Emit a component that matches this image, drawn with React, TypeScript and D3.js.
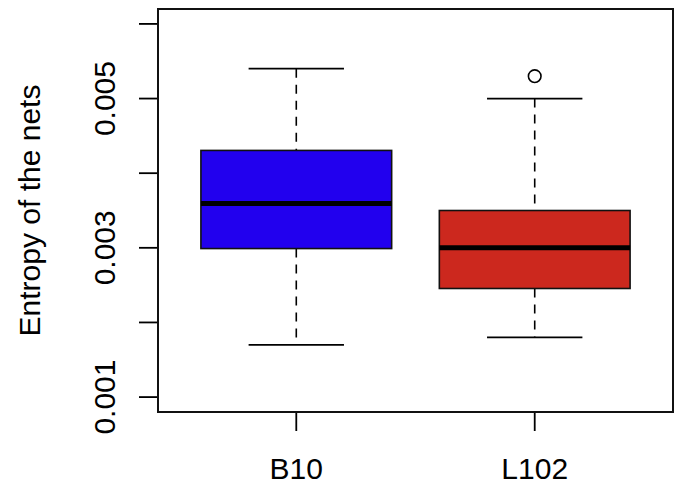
import React from "react";
import * as d3 from "d3";

const categories = ["B10", "L102"];
const boxColors = ["#2200ee", "#cc281e"];
// [lowerWhisker, q1, median, q3, upperWhisker]
const lowerWhisker = [0.0017, 0.0018];
const q1 = [0.00299, 0.002455];
const median = [0.003595, 0.003];
const q3 = [0.004305, 0.0035];
const upperWhisker = [0.0054, 0.005];
const outliers: [number, number][] = [[1, 0.0053]];
const yTicks = [0.001, 0.002, 0.003, 0.004, 0.005, 0.006];
const yLabeled = [0.001, 0.003, 0.005];
const yTitle = "Entropy of the nets";

const W = 675, H = 484;
const left = 158, right = 673, top = 9, bottom = 412;
const font = "'Liberation Sans', Arial, Helvetica, sans-serif";

export default function App() {
  const y = d3.scaleLinear().domain([0.0008, 0.0062]).range([bottom, top]);
  const x = d3.scaleLinear().domain([0.42, 2.58]).range([left, right]);
  const halfBox = (x(1.4) - x(1.0));
  const halfCap = (x(1.2) - x(1.0));
  return (
    <svg width={W} height={H} style={{ position: "absolute", left: 0, top: 0 }}>
      <rect width={W} height={H} fill="#fff" />
      {categories.map((c, i) => {
        const cx = x(i + 1);
        return (
          <g key={c}>
            <line x1={cx} x2={cx} y1={y(upperWhisker[i])} y2={y(q3[i])} stroke="#000" strokeWidth={1.6} strokeDasharray="9 7" />
            <line x1={cx} x2={cx} y1={y(q1[i])} y2={y(lowerWhisker[i])} stroke="#000" strokeWidth={1.6} strokeDasharray="9 7" />
            <line x1={cx - halfCap} x2={cx + halfCap} y1={y(upperWhisker[i])} y2={y(upperWhisker[i])} stroke="#000" strokeWidth={1.8} />
            <line x1={cx - halfCap} x2={cx + halfCap} y1={y(lowerWhisker[i])} y2={y(lowerWhisker[i])} stroke="#000" strokeWidth={1.8} />
            <rect x={cx - halfBox} width={2 * halfBox} y={y(q3[i])} height={y(q1[i]) - y(q3[i])} fill={boxColors[i]} stroke="#111" strokeWidth={1.6} />
            <line x1={cx - halfBox} x2={cx + halfBox} y1={y(median[i])} y2={y(median[i])} stroke="#000" strokeWidth={5} />
            <line x1={cx} x2={cx} y1={bottom} y2={bottom + 19} stroke="#000" strokeWidth={1.8} />
            <text x={cx} y={479} textAnchor="middle" fontFamily={font} fontSize={30} fill="#000">{c}</text>
          </g>
        );
      })}
      {outliers.map(([g, v], k) => (
        <circle key={k} cx={x(g + 1)} cy={y(v)} r={6.3} fill="none" stroke="#000" strokeWidth={1.6} />
      ))}
      {yTicks.map((t) => (
        <line key={t} x1={left - 19} x2={left} y1={y(t)} y2={y(t)} stroke="#000" strokeWidth={1.8} />
      ))}
      {yLabeled.map((t) => (
        <text key={t} transform={`translate(115,${y(t)}) rotate(-90)`} textAnchor="middle" fontFamily={font} fontSize={30} fill="#000">{d3.format(".3f")(t)}</text>
      ))}
      <text transform={`translate(40,${(top + bottom) / 2}) rotate(-90)`} textAnchor="middle" fontFamily={font} fontSize={30} fill="#000">{yTitle}</text>
      <rect x={left} y={top} width={right - left} height={bottom - top} fill="none" stroke="#111" strokeWidth={2} />
    </svg>
  );
}
